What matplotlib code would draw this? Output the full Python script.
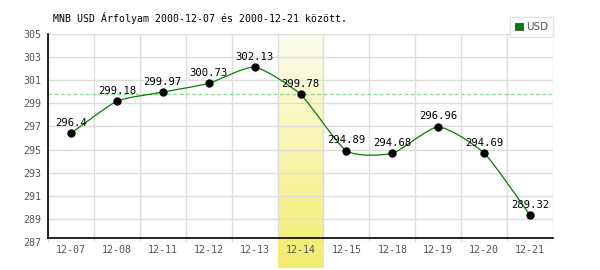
import numpy as np
import matplotlib
matplotlib.use("Agg")
import matplotlib.pyplot as plt
from matplotlib.path import Path
from matplotlib.patches import PathPatch, Patch
from matplotlib.colors import LinearSegmentedColormap
import matplotlib.transforms as mtransforms

dates = ["12-07", "12-08", "12-11", "12-12", "12-13", "12-14",
         "12-15", "12-18", "12-19", "12-20", "12-21"]
values = [296.4, 299.18, 299.97, 300.73, 302.13, 299.78,
          294.89, 294.68, 296.96, 294.69, 289.32]
labels = ["296.4", "299.18", "299.97", "300.73", "302.13", "299.78",
          "294.89", "294.68", "296.96", "294.69", "289.32"]
highlight = 5
yticks = [287, 289, 291, 293, 295, 297, 299, 301, 303, 305]
title = "MNB USD Árfolyam 2000-12-07 és 2000-12-21 között."
series_name = "USD"

mono = "DejaVu Sans Mono"
plt.rcParams["font.family"] = [mono, "DejaVu Sans"]
fig = plt.figure(figsize=(6, 2.7), dpi=100)
ax = fig.add_axes([48/600, 1-242/270, (553-48)/600, (242-34)/270])

x = np.arange(len(values))

# highlight band with gradient
grad = np.linspace(0, 1, 256).reshape(-1, 1)
cmap = LinearSegmentedColormap.from_list("hl", ["#fdfdf0", "#f1ed6c"])
trans = mtransforms.blended_transform_factory(ax.transData, ax.transAxes)
ax.imshow(grad, cmap=cmap, aspect="auto", origin="upper",
          extent=(highlight-0.5, highlight+0.5, -0.125, 1.0),
          transform=trans, zorder=0.5, clip_on=False)
ax.set_xlim(-0.5, len(values)-0.5)
ax.set_ylim(287, 305)

# grid
for xb in np.arange(-0.5, len(values), 1.0):
    ax.axvline(xb, color="#dcdcdc", lw=1, zorder=0.6)
for yv in yticks:
    ax.axhline(yv, color="#dcdcdc", lw=1, zorder=0.6)

ax.set_xticks(x)
ax.set_xticklabels(dates)
ax.set_yticks(yticks)
ax.set_yticklabels([str(v) for v in yticks])
ax.tick_params(axis="both", which="both", length=0, labelsize=7.2,
               labelcolor="#555555", pad=5)

for s in ["top", "right"]:
    ax.spines[s].set_visible(False)
ax.spines["bottom"].set_position(("outward", -2.9))
ax.spines["bottom"].set_linewidth(1.2)
ax.spines["left"].set_linewidth(1.2)
ax.spines["left"].set_bounds(287 + 4/11.56, 305)

# reference line at highlighted value
ax.axhline(values[highlight], color="#88d888", lw=0.9, ls=(0, (3, 2)), zorder=1)

# smooth curve through points (Catmull-Rom -> Bezier)
pts = np.column_stack([x, values]).astype(float)
verts = [tuple(pts[0])]
codes = [Path.MOVETO]
t = 0.3
for i in range(len(pts)-1):
    p0 = pts[i-1] if i > 0 else pts[i]
    p1 = pts[i]
    p2 = pts[i+1]
    p3 = pts[i+2] if i+2 < len(pts) else pts[i+1]
    c1 = p1 + (p2 - p0) * t / 3
    c2 = p2 - (p3 - p1) * t / 3
    verts += [tuple(c1), tuple(c2), tuple(p2)]
    codes += [Path.CURVE4]*3
ax.add_patch(PathPatch(Path(verts, codes), fill=False, edgecolor="#008000", lw=0.9, zorder=2))

ax.plot(x, values, ls="none", marker="o", ms=5, color="black", zorder=3)

for xi, v, lab in zip(x, values, labels):
    ax.annotate(lab, (xi, v), xytext=(0, 4), textcoords="offset points",
                ha="center", va="bottom", fontsize=7.6,
                color="black", zorder=4)

fig.text(53/600, 1-18/270, title, fontsize=7.1,
         color="black", ha="left", va="center")

leg = fig.legend([Patch(facecolor="#008000", edgecolor="#555555", lw=0.8)],
                 [series_name], loc="upper right",
                 bbox_to_anchor=(553/600, 1-17/270), frameon=True,
                 fancybox=False, edgecolor="#dddddd",
                 prop={"family": "Liberation Sans Narrow", "size": 7.5},
                 handlelength=0.7, handleheight=0.7, handletextpad=0.3,
                 borderpad=0.5, borderaxespad=0)
for txt in leg.get_texts():
    txt.set_color("#555555")
leg.get_frame().set_linewidth(1)

fig.savefig("out.png", dpi=100)
